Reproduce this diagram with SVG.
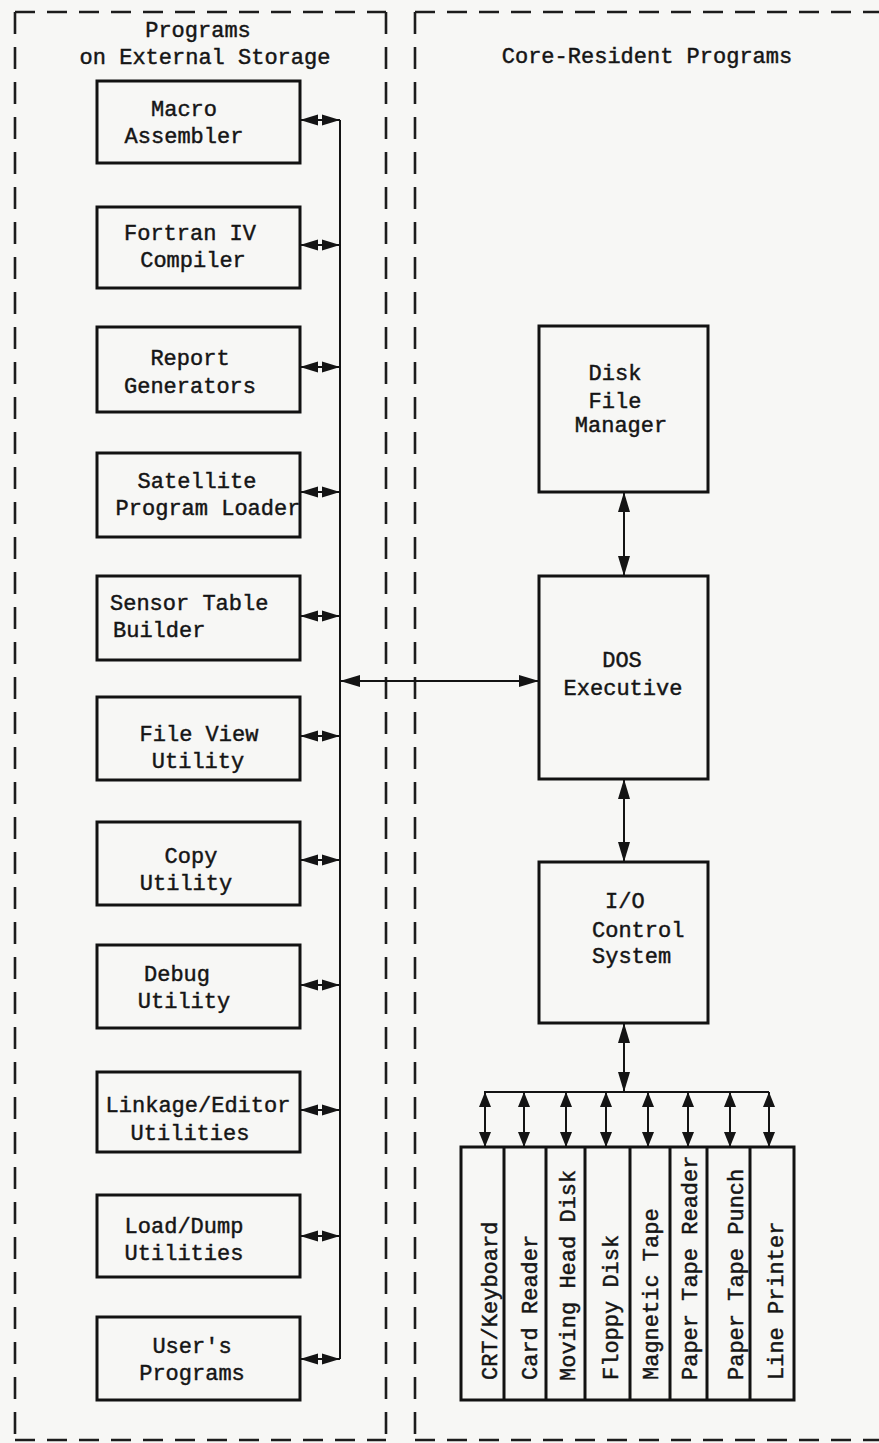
<svg xmlns="http://www.w3.org/2000/svg" width="879" height="1443" viewBox="0 0 879 1443">
<style>
text{font-family:"Liberation Mono","Courier New",monospace;font-size:22px;fill:#151515;stroke:#151515;stroke-width:0.45}
.c{text-anchor:middle}
.box{fill:none;stroke:#121212;stroke-width:3}
.dash{fill:none;stroke:#1c1c1c;stroke-width:2.6;stroke-dasharray:20 12}
.dashv{fill:none;stroke:#1c1c1c;stroke-width:2.6;stroke-dasharray:22 13}
.ln{fill:none;stroke:#141414;stroke-width:2}
.dbl{marker-start:url(#ah);marker-end:url(#ah)}
.dbs{marker-start:url(#as);marker-end:url(#as)}
.dbm{marker-start:url(#am);marker-end:url(#am)}
</style>
<defs>
<marker id="ah" markerUnits="userSpaceOnUse" markerWidth="20" markerHeight="12" refX="20" refY="6" orient="auto-start-reverse"><path d="M0,0 L20,6 L0,12 z" fill="#141414"/></marker>
<marker id="as" markerUnits="userSpaceOnUse" markerWidth="18" markerHeight="12" refX="18" refY="6" orient="auto-start-reverse"><path d="M0,0.5 L18,6 L0,11.5 z" fill="#141414"/></marker>
<marker id="am" markerUnits="userSpaceOnUse" markerWidth="15" markerHeight="12" refX="15" refY="6" orient="auto-start-reverse"><path d="M0,0 L15,6 L0,12 z" fill="#141414"/></marker>
</defs>
<rect x="0" y="0" width="879" height="1443" fill="#f7f7f5"/>

<g id="region-external">
<path class="dash" d="M15,12 H386"/>
<path class="dashv" d="M15,12 V1440"/>
<path class="dashv" d="M386,12 V1440"/>
<path class="dash" d="M15,1440 H386"/>
<text class="c" x="198" y="37">Programs</text>
<text class="c" x="205" y="64">on External Storage</text>
</g>
<g id="region-core">
<path class="dash" d="M415,12 H879"/>
<path class="dashv" d="M415,12 V1440"/>
<path class="dash" d="M415,1440 H879"/>
<text class="c" x="647" y="63">Core-Resident Programs</text>
</g>

<g id="macro-assembler"><rect class="box" x="97" y="81" width="203" height="82"/><text class="c" x="184" y="116">Macro</text><text class="c" x="184" y="143">Assembler</text></g>
<g id="fortran-compiler"><rect class="box" x="97" y="207" width="203" height="81"/><text class="c" x="190" y="240">Fortran IV</text><text class="c" x="193" y="267">Compiler</text></g>
<g id="report-generators"><rect class="box" x="97" y="327" width="203" height="85"/><text class="c" x="190" y="365">Report</text><text class="c" x="190" y="393">Generators</text></g>
<g id="satellite-loader"><rect class="box" x="97" y="453" width="203" height="84"/><text class="c" x="197" y="488">Satellite</text><text class="c" x="208" y="515">Program Loader</text></g>
<g id="sensor-table"><rect class="box" x="97" y="576" width="203" height="84"/><text x="110" y="610">Sensor Table</text><text x="113" y="637">Builder</text></g>
<g id="file-view"><rect class="box" x="97" y="697" width="203" height="83"/><text class="c" x="199" y="741">File View</text><text class="c" x="198" y="768">Utility</text></g>
<g id="copy-utility"><rect class="box" x="97" y="822" width="203" height="83"/><text class="c" x="191" y="863">Copy</text><text class="c" x="186" y="890">Utility</text></g>
<g id="debug-utility"><rect class="box" x="97" y="945" width="203" height="83"/><text class="c" x="177" y="981">Debug</text><text class="c" x="184" y="1008">Utility</text></g>
<g id="linkage-editor"><rect class="box" x="97" y="1072" width="203" height="80"/><text class="c" x="198" y="1112">Linkage/Editor</text><text class="c" x="190" y="1140">Utilities</text></g>
<g id="load-dump"><rect class="box" x="97" y="1195" width="203" height="82"/><text class="c" x="184" y="1233">Load/Dump</text><text class="c" x="184" y="1260">Utilities</text></g>
<g id="users-programs"><rect class="box" x="97" y="1317" width="203" height="83"/><text class="c" x="192" y="1353">User's</text><text class="c" x="192" y="1380">Programs</text></g>

<g id="disk-file-manager"><rect class="box" x="539" y="326" width="169" height="166"/><text class="c" x="615" y="380">Disk</text><text class="c" x="615" y="408">File</text><text class="c" x="621" y="432">Manager</text></g>
<g id="dos-executive"><rect class="box" x="539" y="576" width="169" height="203"/><text class="c" x="622" y="667">DOS</text><text class="c" x="623" y="695">Executive</text></g>
<g id="io-control"><rect class="box" x="539" y="862" width="169" height="161"/><text x="605" y="908">I/O</text><text x="592" y="937">Control</text><text x="592" y="963">System</text></g>

<g id="devices">
<rect class="box" x="461" y="1147" width="333" height="253"/>
<path class="box" d="M504,1147 V1400 M546,1147 V1400 M585,1147 V1400 M630,1147 V1400 M670,1147 V1400 M707,1147 V1400 M750,1147 V1400"/>
<text transform="translate(497,1380) rotate(-90)">CRT/Keyboard</text>
<text transform="translate(537,1380) rotate(-90)">Card Reader</text>
<text transform="translate(575,1381) rotate(-90)">Moving Head Disk</text>
<text transform="translate(618,1380) rotate(-90)">Floppy Disk</text>
<text transform="translate(658,1380) rotate(-90)">Magnetic Tape</text>
<text transform="translate(697,1380) rotate(-90)">Paper Tape Reader</text>
<text transform="translate(743,1380) rotate(-90)">Paper Tape Punch</text>
<text transform="translate(783,1380) rotate(-90)">Line Printer</text>
</g>

<g id="connectors">
<path class="ln" d="M340,120 V1359"/>
<path class="ln dbs" d="M300,120 H340"/>
<path class="ln dbs" d="M300,245 H340"/>
<path class="ln dbs" d="M300,367 H340"/>
<path class="ln dbs" d="M300,492 H340"/>
<path class="ln dbs" d="M300,616 H340"/>
<path class="ln dbs" d="M300,736 H340"/>
<path class="ln dbs" d="M300,860 H340"/>
<path class="ln dbs" d="M300,985 H340"/>
<path class="ln dbs" d="M300,1110 H340"/>
<path class="ln dbs" d="M300,1236 H340"/>
<path class="ln dbs" d="M300,1359 H340"/>
<path class="ln dbl" d="M340,681 H539"/>
<path class="ln dbl" d="M624,492 V576"/>
<path class="ln dbl" d="M624,779 V862"/>
<path class="ln dbl" d="M624,1023 V1092"/>
<path class="ln" d="M484,1092 H769"/>
<path class="ln dbm" d="M485,1092 V1147"/>
<path class="ln dbm" d="M524,1092 V1147"/>
<path class="ln dbm" d="M566,1092 V1147"/>
<path class="ln dbm" d="M606,1092 V1147"/>
<path class="ln dbm" d="M648,1092 V1147"/>
<path class="ln dbm" d="M688,1092 V1147"/>
<path class="ln dbm" d="M730,1092 V1147"/>
<path class="ln dbm" d="M769,1092 V1147"/>
</g>
</svg>
